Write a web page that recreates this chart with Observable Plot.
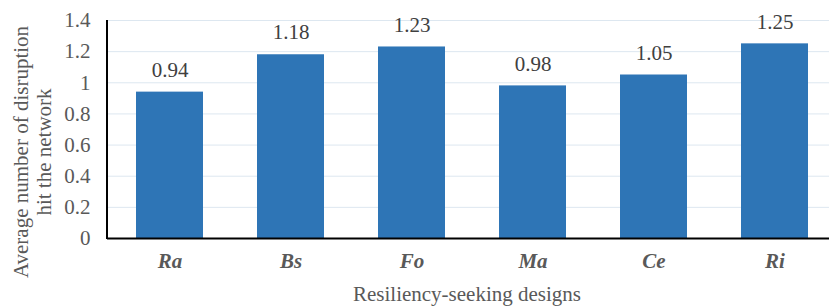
<!DOCTYPE html>
<html><head><meta charset="utf-8">
<script src="https://cdn.jsdelivr.net/npm/d3@7"></script>
<script src="https://cdn.jsdelivr.net/npm/@observablehq/plot@0.6"></script>
<style>body{margin:0;background:#fff}svg{display:block}</style>
</head><body><div id="chart"></div>
<script>
const designs = ["Ra", "Bs", "Fo", "Ma", "Ce", "Ri"];
const values = [0.94, 1.18, 1.23, 0.98, 1.05, 1.25];
const yTicks = [0, 0.2, 0.4, 0.6, 0.8, 1, 1.2, 1.4];
const xTitle = "Resiliency-seeking designs";
const yTitleLines = ["Average number of disruption", "hit the network"];

const data = designs.map((d, i) => ({design: d, value: values[i]}));
const FONT = "'Liberation Serif', 'Times New Roman', serif";

const plot = Plot.plot({
  width: 829, height: 306,
  marginLeft: 107, marginRight: 0, marginTop: 20, marginBottom: 68,
  style: {background: "#fff", fontFamily: FONT},
  x: {domain: designs, range: [107, 837], paddingInner: 0.45, paddingOuter: 0.225},
  y: {domain: [0, 1.4]},
  marks: [
    Plot.gridY(yTicks, {stroke: "#dde7f0", strokeOpacity: 1, strokeWidth: 1}),
    Plot.barY(data, {x: "design", y: "value", fill: "#2E75B6"}),
    Plot.text(data, {x: "design", y: "value", text: d => d.value.toFixed(2), dy: -22, fontSize: 21, fill: "#404040"}),
    Plot.ruleY([0], {stroke: "#000", strokeWidth: 2}),
    Plot.axisY({ticks: yTicks, tickSize: 0, tickPadding: 17, tickFormat: d => String(+d.toFixed(1)), fontSize: 21, fill: "#595959", label: null}),
    Plot.axisX({tickSize: 0, tickPadding: 15, fontSize: 21, fontWeight: "bold", fontStyle: "italic", fill: "#595959", label: null})
  ]
});

const svg = d3.select(plot);
svg.selectAll("text").style("font-family", FONT);
svg.append("line").attr("x1", 107).attr("x2", 107).attr("y1", 20).attr("y2", 239)
  .attr("stroke", "#000").attr("stroke-width", 2);
svg.append("text").attr("x", 467).attr("y", 301).attr("text-anchor", "middle")
  .style("font-family", FONT).attr("font-size", 21).attr("fill", "#595959").text(xTitle);
const yt = svg.append("text").attr("transform", "translate(0,152) rotate(-90)")
  .style("font-family", FONT).attr("text-anchor", "middle").attr("font-size", 21).attr("fill", "#595959");
yt.append("tspan").attr("x", 0).attr("y", 28).text(yTitleLines[0]);
yt.append("tspan").attr("x", 0).attr("y", 51).text(yTitleLines[1]);
document.getElementById("chart").append(plot);
</script></body></html>
